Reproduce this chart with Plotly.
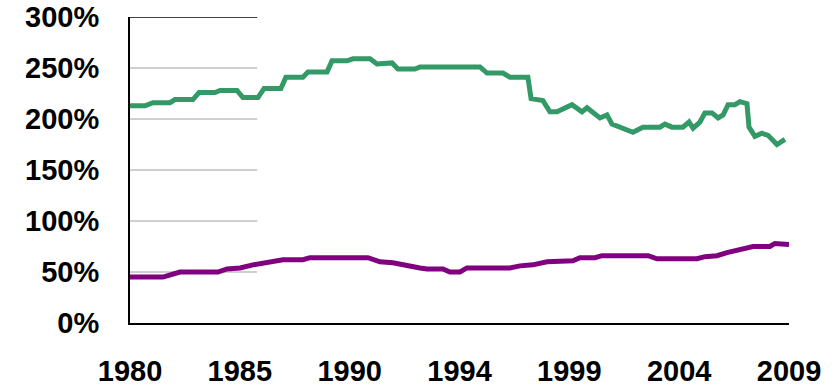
import plotly.graph_objects as go

# Decimal-year positions and percentage values for each series
green_years = [1980.00, 1980.66, 1981.01, 1981.76, 1981.98, 1982.77, 1983.04, 1983.74,
               1983.96, 1984.71, 1984.97, 1985.63, 1985.90, 1986.64, 1986.86, 1987.61,
               1987.83, 1988.67, 1988.89, 1989.55, 1989.81, 1990.56, 1990.87, 1991.53,
               1991.79, 1992.54, 1992.76, 1995.40, 1995.71, 1996.41, 1996.72, 1997.51,
               1997.65, 1998.17, 1998.48, 1998.79, 1999.45, 1999.89, 2000.11, 2000.68,
               2000.99, 2001.21, 2002.13, 2002.57, 2003.32, 2003.54, 2003.85, 2004.33,
               2004.60, 2004.78, 2005.08, 2005.30, 2005.61, 2005.88, 2006.10, 2006.32,
               2006.62, 2006.84, 2007.15, 2007.24, 2007.50, 2007.81, 2008.08, 2008.47,
               2008.82]
green_values = [213, 213, 216, 216, 219, 219, 226, 226,
                228, 228, 221, 221, 230, 230, 241, 241,
                246, 246, 257, 257, 259, 259, 254, 255,
                249, 249, 251, 251, 245, 245, 241, 241,
                220, 218, 207, 207, 214, 207, 211, 201,
                204, 195, 187, 192, 192, 195, 192, 192,
                197, 191, 197, 206, 206, 201, 204, 214,
                214, 217, 215, 192, 183, 186, 184, 175,
                180]

purple_years = [1980.00, 1981.45, 1982.20, 1983.87, 1984.27, 1984.84, 1985.41, 1986.03,
                1986.47, 1986.73, 1987.61, 1987.92, 1990.47, 1991.00, 1991.57, 1992.19,
                1992.76, 1993.07, 1993.77, 1994.08, 1994.52, 1994.83, 1996.72, 1997.16,
                1997.73, 1998.35, 1998.92, 1999.49, 1999.80, 2000.46, 2000.77, 2002.80,
                2003.19, 2004.95, 2005.30, 2005.83, 2006.27, 2006.84, 2007.42, 2008.16,
                2008.38, 2009.00]
purple_values = [45, 45, 50, 50, 53, 54, 57, 59,
                 60, 62, 62, 64, 64, 60, 59, 56,
                 54, 53, 53, 50, 50, 54, 54, 56,
                 57, 60, 61, 61, 64, 64, 66, 66,
                 63, 63, 65, 66, 69, 72, 75, 75,
                 78, 77]

x_tick_labels = ["1980", "1985", "1990", "1994", "1999", "2004", "2009"]
y_tick_values = [0, 50, 100, 150, 200, 250, 300]
y_tick_labels = ["0%", "50%", "100%", "150%", "200%", "250%", "300%"]

x_start, x_end = 1980.0, 2009.0
step = (x_end - x_start) / (len(x_tick_labels) - 1)
x_tick_values = [x_start + i * step for i in range(len(x_tick_labels))]

fig = go.Figure()
fig.add_trace(go.Scatter(x=green_years, y=green_values, mode="lines",
                         line=dict(color="#339966", width=5), hoverinfo="skip"))
fig.add_trace(go.Scatter(x=purple_years, y=purple_values, mode="lines",
                         line=dict(color="#800080", width=5), hoverinfo="skip"))

# Short gridlines and top border over the left portion of the plot
grid_end = 0.193
for v in y_tick_values[1:-1]:
    fig.add_shape(type="line", xref="paper", yref="y", x0=0, x1=grid_end, y0=v, y1=v,
                  line=dict(color="#a0a0a0", width=1), layer="below")
fig.add_shape(type="line", xref="paper", yref="y", x0=0, x1=grid_end, y0=300, y1=300,
              line=dict(color="#000000", width=1.5), layer="below")

font_family = "Liberation Sans, Arial, sans-serif"
x_tick_font = dict(family=font_family, size=29, color="#000000", weight="bold")
y_tick_font = dict(family=font_family, size=29, color="#000000", weight="bold")

fig.update_layout(
    width=840, height=387,
    margin=dict(l=130, r=51, t=17, b=64),
    paper_bgcolor="white", plot_bgcolor="white",
    showlegend=False,
    xaxis=dict(range=[x_start, x_end], tickvals=x_tick_values, ticktext=x_tick_labels,
               showgrid=False, zeroline=False, showline=True, linecolor="#000000",
               linewidth=2, ticks="outside", ticklen=21, tickcolor="rgba(0,0,0,0)",
               tickfont=x_tick_font, automargin=False),
    yaxis=dict(range=[0, 300], tickvals=y_tick_values, ticktext=y_tick_labels,
               showgrid=False, zeroline=False, showline=True, linecolor="#000000",
               linewidth=2, ticks="outside", ticklen=23, tickcolor="rgba(0,0,0,0)",
               tickfont=y_tick_font, automargin=False),
)

fig.write_html("out.html")
